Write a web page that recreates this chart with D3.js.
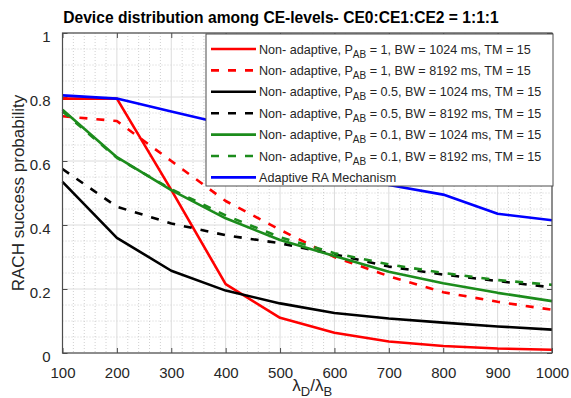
<!DOCTYPE html>
<html>
<head>
<meta charset="utf-8">
<script src="https://cdn.jsdelivr.net/npm/d3@7"></script>
<style>
  body { margin: 0; background: #fff; }
  svg { display: block; font-family: "Liberation Sans", Arial, sans-serif; }
</style>
</head>
<body>
<div id="chart"></div>
<script>
'use strict';

var ratios = [100, 200, 300, 400, 500, 600, 700, 800, 900, 1000];
var xTicks = [100, 200, 300, 400, 500, 600, 700, 800, 900, 1000];
var yTicks = [0, 0.2, 0.4, 0.6, 0.8, 1];

var redSolid   = [0.795, 0.795, 0.51, 0.215, 0.11, 0.063, 0.036, 0.022, 0.014, 0.01];
var redDash    = [0.74, 0.725, 0.60, 0.475, 0.385, 0.30, 0.24, 0.19, 0.16, 0.135];
var blackSolid = [0.535, 0.36, 0.257, 0.195, 0.155, 0.125, 0.108, 0.095, 0.083, 0.073];
var blackDash  = [0.575, 0.457, 0.405, 0.368, 0.343, 0.308, 0.27, 0.245, 0.225, 0.205];
var greenSolid = [0.76, 0.612, 0.509, 0.421, 0.353, 0.303, 0.254, 0.218, 0.188, 0.162];
var greenDash  = [0.755, 0.61, 0.512, 0.43, 0.362, 0.312, 0.277, 0.25, 0.228, 0.213];
var adaptive   = [0.805, 0.795, 0.755, 0.715, 0.655, 0.585, 0.525, 0.495, 0.435, 0.415];

var series = [
  {pre: 'Non- adaptive, P', sub: 'AB', post: ' = 1, BW = 1024 ms, TM = 15', values: redSolid, color: '#ff0000', dash: null},
  {pre: 'Non- adaptive, P', sub: 'AB', post: ' = 1, BW = 8192 ms, TM = 15', values: redDash, color: '#ff0000', dash: '8,9'},
  {pre: 'Non- adaptive, P', sub: 'AB', post: ' = 0.5, BW = 1024 ms, TM = 15', values: blackSolid, color: '#000000', dash: null},
  {pre: 'Non- adaptive, P', sub: 'AB', post: ' = 0.5, BW = 8192 ms, TM = 15', values: blackDash, color: '#000000', dash: '8,9'},
  {pre: 'Non- adaptive, P', sub: 'AB', post: ' = 0.1, BW = 1024 ms, TM = 15', values: greenSolid, color: '#1c8c1c', dash: null},
  {pre: 'Non- adaptive, P', sub: 'AB', post: ' = 0.1, BW = 8192 ms, TM = 15', values: greenDash, color: '#1c8c1c', dash: '8,9'},
  {pre: 'Adaptive RA Mechanism', sub: '', post: '', values: adaptive, color: '#0000ff', dash: null}
];

var width = 571, height = 398;
var margin = {left: 62.5, right: 19, top: 33, bottom: 45};
var pw = width - margin.left - margin.right;
var ph = height - margin.top - margin.bottom;

var svg = d3.select('#chart').append('svg')
  .attr('width', width)
  .attr('height', height);

var g = svg.append('g')
  .attr('transform', 'translate(' + margin.left + ',' + margin.top + ')');

var x = d3.scaleLinear().domain([100, 1000]).range([0, pw]);
var y = d3.scaleLinear().domain([0, 1]).range([ph, 0]);

// minor grid
var xMinor = d3.range(120, 1000, 20).filter(function(d) { return d % 100 !== 0; });
var yMinor = d3.range(0.05, 1, 0.05).filter(function(d) { return Math.abs(d * 5 - Math.round(d * 5)) > 1e-6; });

g.append('g').selectAll('line').data(xMinor).enter().append('line')
  .attr('x1', function(d) { return x(d); }).attr('x2', function(d) { return x(d); })
  .attr('y1', 0).attr('y2', ph)
  .attr('stroke', '#c4c4c4').attr('stroke-width', 0.8).attr('stroke-dasharray', '1,2');
g.append('g').selectAll('line').data(yMinor).enter().append('line')
  .attr('y1', function(d) { return y(d); }).attr('y2', function(d) { return y(d); })
  .attr('x1', 0).attr('x2', pw)
  .attr('stroke', '#c4c4c4').attr('stroke-width', 0.8).attr('stroke-dasharray', '1,2');

// major grid
g.append('g').selectAll('line').data(xTicks).enter().append('line')
  .attr('x1', function(d) { return x(d); }).attr('x2', function(d) { return x(d); })
  .attr('y1', 0).attr('y2', ph)
  .attr('stroke', '#dcdcdc').attr('stroke-width', 1);
g.append('g').selectAll('line').data(yTicks).enter().append('line')
  .attr('y1', function(d) { return y(d); }).attr('y2', function(d) { return y(d); })
  .attr('x1', 0).attr('x2', pw)
  .attr('stroke', '#dcdcdc').attr('stroke-width', 1);

// axes with inward ticks
var axisColor = '#4d4d4d';
function styleAxis(sel) {
  sel.select('.domain').remove();
  sel.selectAll('line').attr('stroke', axisColor);
  sel.selectAll('text').attr('fill', '#262626').style('font-size', '15px')
    .style('font-family', '"Liberation Sans", Arial, sans-serif');
}

g.append('g').attr('transform', 'translate(0,' + ph + ')')
  .call(d3.axisBottom(x).tickValues(xTicks).tickSizeInner(-5).tickSizeOuter(0).tickPadding(14).tickFormat(d3.format('d')))
  .call(styleAxis);
g.append('g')
  .call(d3.axisTop(x).tickValues(xTicks).tickSizeInner(-5).tickSizeOuter(0).tickFormat(''))
  .call(styleAxis);
g.append('g')
  .call(d3.axisLeft(y).tickValues(yTicks).tickSizeInner(-5).tickSizeOuter(0).tickPadding(12).tickFormat(function(d) { return d === 0 || d === 1 ? d : d3.format('.1f')(d); }))
  .call(styleAxis)
  .selectAll('text').attr('dy', '0.55em');
g.append('g').attr('transform', 'translate(' + pw + ',0)')
  .call(d3.axisRight(y).tickValues(yTicks).tickSizeInner(-5).tickSizeOuter(0).tickFormat(''))
  .call(styleAxis);

// lines
var line = d3.line()
  .x(function(d, i) { return x(ratios[i]); })
  .y(function(d) { return y(d); });

series.forEach(function(s) {
  g.append('path')
    .datum(s.values)
    .attr('d', line)
    .attr('fill', 'none')
    .attr('stroke', s.color)
    .attr('stroke-width', 2.6)
    .attr('stroke-dasharray', s.dash)
    .attr('stroke-linejoin', 'round');
});

// frame
g.append('rect')
  .attr('width', pw).attr('height', ph)
  .attr('fill', 'none').attr('stroke', axisColor).attr('stroke-width', 1.2);

// legend
var legX = 206, legY = 34, legW = 347, legH = 152, rowH = 21.4;
var leg = svg.append('g');
leg.append('rect')
  .attr('x', legX).attr('y', legY).attr('width', legW).attr('height', legH)
  .attr('fill', '#fff').attr('stroke', axisColor).attr('stroke-width', 1);

series.forEach(function(s, i) {
  var cy = legY + 15 + i * rowH;
  leg.append('line')
    .attr('x1', 211).attr('x2', 256)
    .attr('y1', cy).attr('y2', cy)
    .attr('stroke', s.color).attr('stroke-width', 2.6)
    .attr('stroke-dasharray', s.dash);
  var t = leg.append('text')
    .attr('x', 259).attr('y', cy + 4.5)
    .attr('fill', '#262626')
    .style('font-size', '12.6px');
  t.append('tspan').text(s.pre);
  if (s.sub) {
    t.append('tspan').attr('dy', 4).style('font-size', '10px').text(s.sub);
    t.append('tspan').attr('dy', -4).text(s.post);
  }
});

// title
svg.append('text')
  .attr('x', 281).attr('y', 23)
  .attr('text-anchor', 'middle')
  .attr('fill', '#000')
  .style('font-size', '15.6px').style('font-weight', 'bold')
  .text('Device distribution among CE-levels- CE0:CE1:CE2 = 1:1:1');

// y label
svg.append('text')
  .attr('transform', 'translate(24,' + (margin.top + ph / 2) + ') rotate(-90)')
  .attr('text-anchor', 'middle')
  .attr('fill', '#262626')
  .style('font-size', '17px')
  .text('RACH success probability');

// x label
var xl = svg.append('text')
  .attr('x', margin.left + pw / 2 + 5).attr('y', 391)
  .attr('text-anchor', 'middle')
  .attr('fill', '#262626')
  .style('font-size', '17px');
xl.append('tspan').text('λ');
xl.append('tspan').attr('dy', 5).style('font-size', '13px').text('D');
xl.append('tspan').attr('dy', -5).text('/λ');
xl.append('tspan').attr('dy', 5).style('font-size', '13px').text('B');
</script>
</body>
</html>
